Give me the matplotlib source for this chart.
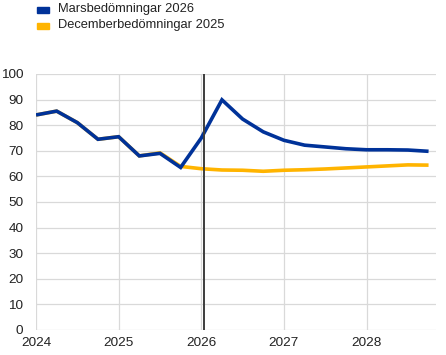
import matplotlib.pyplot as plt
import numpy as np

plt.rcParams['font.family'] = ['Liberation Sans', 'DejaVu Sans']

# quarterly index, 0 = 2024 Q1
quarters = np.arange(20)
year_labels = ["2024", "2025", "2026", "2027", "2028"]
year_pos = [0, 4, 8, 12, 16]

mars_2026 = [84, 85.5, 81, 74.5, 75.5, 68, 69, 63.5, 75, 89.9,
             82.4, 77.4, 74.1, 72.2, 71.5, 70.8, 70.4, 70.4, 70.3, 69.8]
dec_2025 = [84, 85.5, 81, 74.5, 75.5, 68, 69.2, 63.9, 63.0, 62.5,
            62.4, 62.0, 62.4, 62.6, 62.9, 63.3, 63.7, 64.1, 64.5, 64.4]

blue = "#003299"
yellow = "#ffb400"

fig = plt.figure(figsize=(4.46, 3.55), dpi=100)
ax = fig.add_axes([36 / 446, 25 / 355, 400 / 446, 256 / 355])

ax.plot(quarters, dec_2025, color=yellow, lw=2.6, solid_capstyle="butt")
ax.plot(quarters, mars_2026, color=blue, lw=2.6, solid_capstyle="butt",
        solid_joinstyle="miter")
ax.axvline(8.15, color="#3c3c3c", lw=1.4)

ax.set_xlim(0, 19.36)
ax.set_ylim(0, 100)
ax.set_yticks(range(0, 101, 10))
ax.set_xticks(year_pos)
ax.set_xticklabels(year_labels)
ax.grid(True, color="#d9d9d9", lw=0.9)
ax.set_axisbelow(True)
for s in ax.spines.values():
    s.set_visible(False)
ax.tick_params(length=0, labelsize=9.7, colors="#222222")
ax.tick_params(axis="y", pad=9)
ax.tick_params(axis="x", pad=5)

# legend
fig.patches.append(plt.Rectangle((37 / 446, 1 - 13 / 355), 12 / 446, 6 / 355,
                                 transform=fig.transFigure, color=blue, figure=fig))
fig.patches.append(plt.Rectangle((37 / 446, 1 - 29 / 355), 12 / 446, 6 / 355,
                                 transform=fig.transFigure, color=yellow, figure=fig))
fig.text(58 / 446, 1 - 9 / 355, "Marsbedömningar 2026", fontsize=9.3,
         va="center", color="#222222")
fig.text(58 / 446, 1 - 25 / 355, "Decemberbedömningar 2025", fontsize=9.3,
         va="center", color="#222222")

fig.savefig("out.png", dpi=100)
